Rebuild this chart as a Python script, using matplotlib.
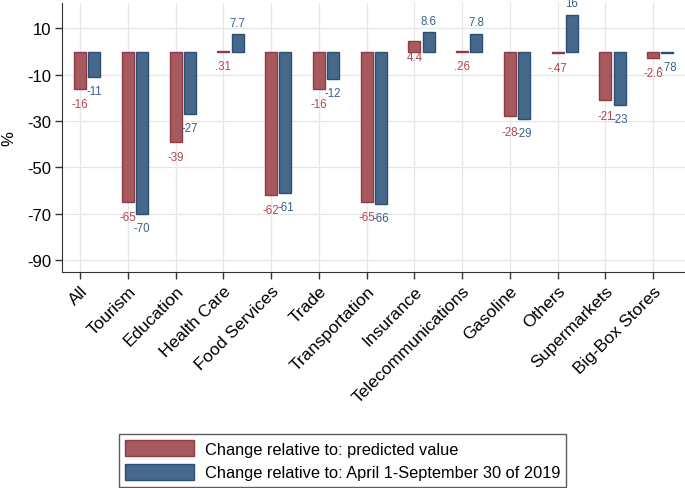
import numpy as np
import matplotlib
matplotlib.use("Agg")
import matplotlib.pyplot as plt
from matplotlib.patches import Patch

plt.rcParams["font.family"] = ["Liberation Sans", "DejaVu Sans"]

categories = ["All", "Tourism", "Education", "Health Care", "Food Services",
              "Trade", "Transportation", "Insurance", "Telecommunications",
              "Gasoline", "Others", "Supermarkets", "Big-Box Stores"]
predicted = [-16, -65, -39, .31, -62, -16, -65, 4.4, .26, -28, -.47, -21, -2.6]
baseline_2019 = [-11, -70, -27, 7.7, -61, -12, -66, 8.6, 7.8, -29, 16, -23, -.78]
yticks = [10, -10, -30, -50, -70, -90]

red_fill, red_edge, red_txt = "#a65a60", "#8e3b43", "#b0474f"
blue_fill, blue_edge, blue_txt = "#46698b", "#2b4f74", "#36608c"


def fmt(v):
    # stata style: .31, -.47
    s = f"{v:.2g}"
    return s.replace("0.", ".")


fig = plt.figure(figsize=(6.85, 4.89), dpi=100)
ax = fig.add_axes([62 / 685, 1 - 273 / 489, 1 - 62 / 685, (273 - 4) / 489])

x = np.arange(len(categories))
w = 0.25
ax.bar(x, predicted, w, color=red_fill, edgecolor=red_edge, linewidth=1, zorder=3)
ax.bar(x + 0.3, baseline_2019, w, color=blue_fill, edgecolor=blue_edge, linewidth=1, zorder=3)

for xi, v in zip(x, predicted):
    ax.annotate(fmt(v), (xi, v), xytext=(0, -11), textcoords="offset points",
                ha="center", va="center", fontsize=8.3, color=red_txt)
for xi, v in zip(x + 0.3, baseline_2019):
    off = 8 if v > 0 else -10
    ax.annotate(fmt(v), (xi, v), xytext=(0, off), textcoords="offset points",
                ha="center", va="center", fontsize=8.3, color=blue_txt)

ax.set_xlim(-0.38, 12.67)
ax.set_ylim(-95.2, 21)
ax.set_yticks(yticks)
ax.set_yticklabels([str(t) for t in yticks], fontsize=12)
ax.set_xticks(x)
ax.set_xticklabels(categories, rotation=45, ha="right", rotation_mode="anchor", fontsize=12.5)
ax.tick_params(axis="both", direction="out", length=5, width=1, color="#333333", pad=3)
ax.set_ylabel("%", fontsize=12)
ax.yaxis.set_label_coords(-0.074, 0.5)

ax.grid(True, color="#e6e6e6", linewidth=0.9, zorder=0)
ax.set_axisbelow(True)
for side in ["top", "right"]:
    ax.spines[side].set_visible(False)
for side in ["left", "bottom"]:
    ax.spines[side].set_color("#333333")

handles = [Patch(facecolor=red_fill, edgecolor=red_edge, label="Change relative to: predicted value"),
           Patch(facecolor=blue_fill, edgecolor=blue_edge,
                 label="Change relative to: April 1-September 30 of 2019")]
leg = fig.legend(handles=handles, loc="lower center", bbox_to_anchor=(0.5, 1 / 489),
                 fontsize=11.8, handlelength=4.2, handleheight=1.1, fancybox=False,
                 edgecolor="#333333", borderpad=0.4, labelspacing=0.45,
                 handletextpad=0.65, borderaxespad=0)
leg.get_frame().set_linewidth(1)

fig.savefig("out.png", dpi=100)
